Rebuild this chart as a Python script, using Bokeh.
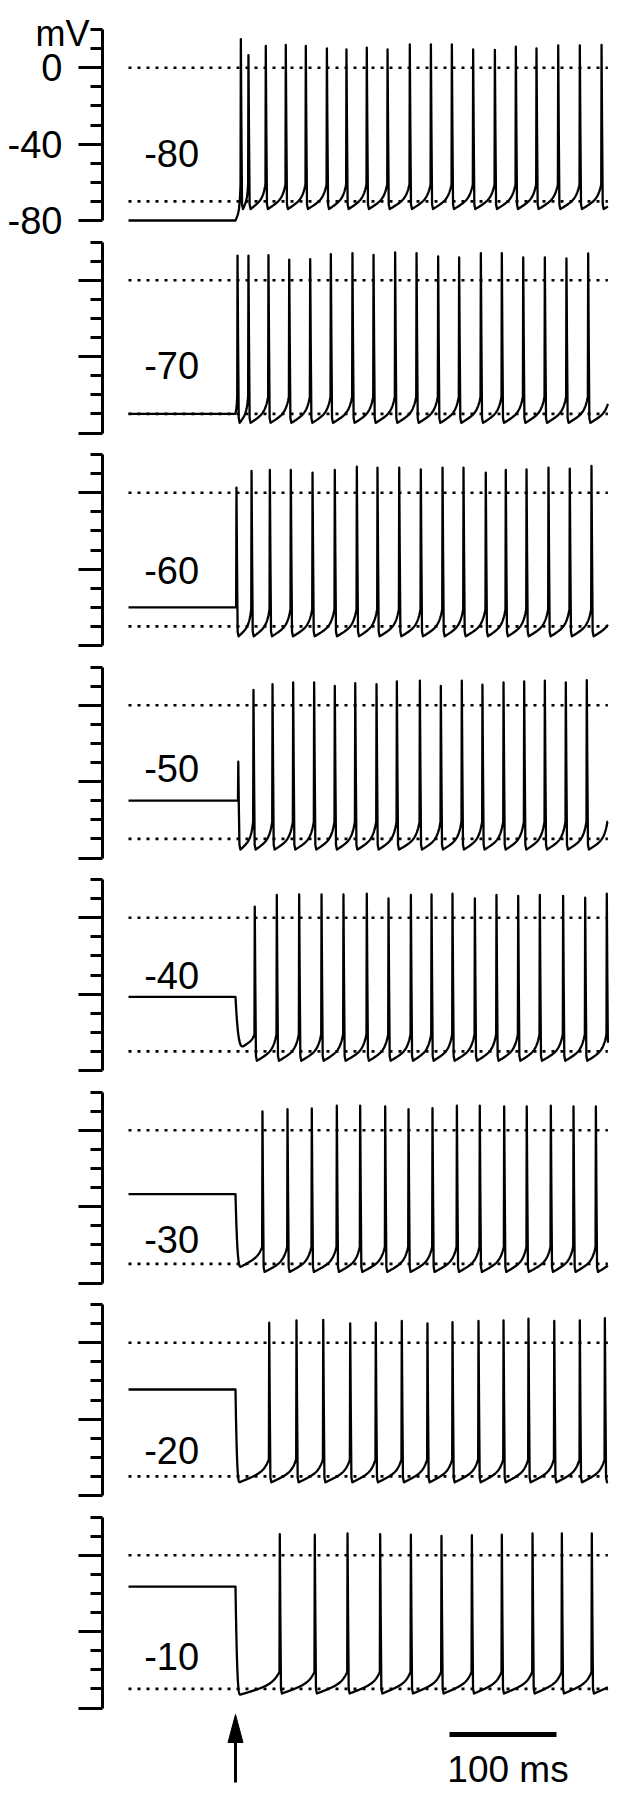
import numpy as np
from bokeh.plotting import figure
from bokeh.models import Range1d, FixedTicker, LinearAxis
from bokeh.core.properties import value
from bokeh.embed import file_html
from bokeh.resources import INLINE

# ---------------- data ----------------
PANEL_LABELS = ["-80", "-70", "-60", "-50", "-40", "-30", "-20", "-10"]
HOLD_MV = [-80.0, -70.0, -60.0, -50.0, -41.5, -33.5, -24.5, -16.5]
AHP_MV = [-74.0, -74.7, -75.2, -75.6, -74.9, -74.2, -73.1, -72.4]
POST_STEP_MS = [100.0, 100.0, 100.0, 100.0, 107.0, 105.0, 104.0, 104.5]
POST_STEP_MV = [-80.0, -70.0, -60.0, -50.0, -67.4, -71.5, -73.0, -73.0]

SPIKE_MS_80 = [105.0, 112.1, 128.3, 147.0, 165.7, 185.4, 203.7, 222.7, 242.1, 262.9,
               282.6, 302.2, 322.1, 342.4, 362.0, 381.3, 401.6, 421.8, 442.1]
PEAK_MV_80 = [14.9, 6.6, 11.4, 11.9, 11.4, 10.1, 9.6, 10.5, 9.6, 12.2,
              12.2, 12.2, 9.6, 9.3, 11.0, 10.1, 11.7, 11.7, 11.9]
SPIKE_MS_70 = [101.9, 112.1, 130.8, 150.2, 169.8, 189.1, 209.3, 229.0, 249.2, 269.2,
               289.4, 309.0, 329.3, 348.9, 368.9, 389.1, 409.3, 429.6]
PEAK_MV_70 = [12.8, 12.8, 13.1, 10.7, 11.0, 13.6, 14.2, 13.3, 14.5, 14.2,
              12.4, 11.9, 14.2, 14.2, 11.9, 11.9, 11.4, 14.0]
SPIKE_MS_60 = [100.9, 115.0, 132.1, 151.7, 172.0, 192.8, 213.4, 232.7, 253.0, 273.2,
               293.5, 313.1, 333.9, 352.6, 372.0, 392.5, 412.4, 432.7]
PEAK_MV_60 = [2.6, 11.4, 11.9, 11.9, 10.5, 11.9, 13.6, 13.1, 13.1, 12.2,
              13.1, 13.1, 10.5, 11.9, 12.2, 13.1, 12.6, 14.0]
SPIKE_MS_50 = [102.6, 116.8, 134.6, 153.9, 173.5, 192.8, 211.9, 231.8, 250.8, 272.3,
               291.9, 311.5, 330.8, 350.5, 369.8, 389.1, 408.7, 428.3]
PEAK_MV_50 = [-29.6, 8.0, 11.0, 11.9, 11.9, 10.1, 11.5, 11.0, 12.4, 12.8,
              10.1, 12.8, 10.7, 11.9, 12.4, 12.8, 11.9, 13.1]
SPIKE_MS_40 = [118.0, 138.6, 159.5, 180.4, 200.9, 222.7, 243.0, 263.9, 283.2, 302.8,
               323.7, 343.9, 364.2, 384.4, 406.2, 426.8, 447.0]
PEAK_MV_40 = [5.8, 11.9, 12.2, 12.2, 12.2, 12.6, 10.1, 11.9, 12.2, 12.6,
              10.1, 11.9, 11.4, 11.9, 11.4, 10.5, 12.6]
SPIKE_MS_30 = [125.2, 148.6, 171.3, 194.7, 216.5, 239.9, 261.7, 284.1, 306.9, 328.3,
               351.1, 372.2, 394.7, 415.9, 436.8]
PEAK_MV_30 = [9.8, 11.0, 11.4, 12.8, 12.8, 12.4, 11.0, 11.5, 12.8, 12.8,
              12.4, 12.4, 12.8, 12.4, 12.4]
SPIKE_MS_20 = [131.5, 157.0, 182.0, 207.2, 231.1, 255.4, 279.4, 302.8, 327.1, 350.5,
               373.8, 397.9, 421.8, 445.2]
PEAK_MV_20 = [10.5, 11.7, 11.9, 10.1, 10.5, 11.4, 10.1, 10.8, 11.4, 11.7,
              12.6, 11.4, 11.7, 12.8]
SPIKE_MS_10 = [141.4, 174.1, 204.7, 235.2, 263.9, 292.5, 320.9, 348.9, 377.6, 405.0, 433.0]
PEAK_MV_10 = [11.0, 10.7, 11.4, 11.0, 10.7, 10.1, 10.5, 10.7, 11.4, 11.4, 11.4]

SPIKES_MS = [SPIKE_MS_80, SPIKE_MS_70, SPIKE_MS_60, SPIKE_MS_50,
             SPIKE_MS_40, SPIKE_MS_30, SPIKE_MS_20, SPIKE_MS_10]
PEAKS_MV = [PEAK_MV_80, PEAK_MV_70, PEAK_MV_60, PEAK_MV_50,
            PEAK_MV_40, PEAK_MV_30, PEAK_MV_20, PEAK_MV_10]

DOTTED_MV = [0.0, -70.0]
Y_BOUNDS = (-80, 20)
Y_MAJOR_TICKS = [-80, -40, 0]
Y_MINOR_TICKS = [-70, -60, -50, -30, -20, -10, 10, 20]
Y_TICK_LABELS = {-80: "-80", -40: "-40", 0: "0"}
Y_UNIT = "mV"
STEP_MS = 100.0
END_MS = 448.0
SCALE_START_MS = 300.0
SCALE_LEN_MS = 100.0
SCALE_TEXT = "100 ms"

# ---------------- layout / style ----------------
FONT = "Liberation Sans"
FS = "38px"
FIG_W, FIG_H = 615, 1784           # page pixels 8..623 x 8..1792
PAGE_X0, PAGE_Y0 = 8, 8
T0_PX = 136.0                       # page x of t = 0 ms
PX_PER_MS = 1.07
ZERO0_PX = 75.2                     # page y of 0 mV in the first panel
PANEL_STEP_PX = 212.5
PX_PER_MV = 1.91
SPINE_MS = (110.0 - T0_PX) / PX_PER_MS
LABEL_X_MS = 66.0
LABEL_BASE_MV = [-44.7, -44.7, -40.9, -33.2, -30.2, -57.2, -56.2, -53.0]
V_TH = -61.0


def ramp(t_a, v_a, t_b, v_b):
    n = max(6, int((t_b - t_a) / 0.35))
    s = np.linspace(0.0, 1.0, n + 1)[1:]
    rise = v_b - v_a
    lin = min(6.0, 0.6 * rise) if rise > 0 else rise
    k = 6.0
    curve = (np.exp(k * s) - 1.0) / (np.exp(k) - 1.0)
    return list(t_a + s * (t_b - t_a)), list(v_a + lin * s + (rise - lin) * curve)


def build_trace(hold, spikes, peaks, ahp, post_t, post_v):
    t = [0.0, STEP_MS]
    v = [hold, hold]
    if post_t > STEP_MS:
        u = np.linspace(0.0, 1.0, 30)[1:]
        t += list(STEP_MS + u * (post_t - STEP_MS))
        v += list(post_v + (hold - post_v) * (1.0 - u) ** 3)
    ta, va = post_t, post_v
    for i, (sp, pk) in enumerate(zip(spikes, peaks)):
        vth = max(V_TH, va) if i == 0 else V_TH
        rt, rv = ramp(ta, va, sp - 0.3, vth)
        t += rt
        v += rv
        t += [sp, sp + 0.5, sp + 1.1, sp + 2.0]
        v += [pk, 0.5 * (pk + ahp), ahp + 2.5, ahp]
        ta, va = sp + 2.0, ahp
    isi = spikes[-1] - spikes[-2]
    rt, rv = ramp(ta, va, spikes[-1] + isi - 0.3, V_TH)
    t += rt
    v += rv
    t = np.array(t)
    v = np.array(v)
    keep = t <= END_MS
    v_end = float(np.interp(END_MS, t, v))
    return np.append(t[keep], END_MS), np.append(v[keep], v_end)


x0 = (PAGE_X0 - T0_PX) / PX_PER_MS
x1 = (PAGE_X0 + FIG_W - T0_PX) / PX_PER_MS
p = figure(width=FIG_W, height=FIG_H, x_range=Range1d(x0, x1),
           y_range=Range1d(0, FIG_H),           # page pixels above the bottom edge
           x_axis_type=None, y_axis_type=None, title=None,
           output_backend="svg", toolbar_location=None, tools="")
p.min_border = 0
p.outline_line_color = None
p.grid.visible = False
p.background_fill_color = "white"
p.border_fill_color = "white"

for i in range(8):
    zero = ZERO0_PX + i * PANEL_STEP_PX
    name = f"p{i}"
    p.extra_y_ranges[name] = Range1d((zero - (PAGE_Y0 + FIG_H)) / PX_PER_MV,
                                     (zero - PAGE_Y0) / PX_PER_MV)
    ax = LinearAxis(y_range_name=name, fixed_location=SPINE_MS, bounds=Y_BOUNDS,
                    ticker=FixedTicker(ticks=Y_MAJOR_TICKS, minor_ticks=Y_MINOR_TICKS))
    ax.axis_line_width = 3
    ax.axis_line_color = "black"
    ax.major_tick_line_width = 3
    ax.minor_tick_line_width = 3
    ax.major_tick_line_color = "black"
    ax.minor_tick_line_color = "black"
    ax.major_tick_out = 24
    ax.major_tick_in = 0
    ax.minor_tick_out = 12
    ax.minor_tick_in = 0
    ax.major_label_standoff = 16
    ax.major_label_text_font = FONT
    ax.major_label_text_font_size = FS
    ax.major_label_text_color = "black"
    if i == 0:
        ax.major_label_overrides = dict(Y_TICK_LABELS)
    else:
        ax.major_label_overrides = {k: "" for k in Y_TICK_LABELS}
    p.add_layout(ax, "left")

    for d in DOTTED_MV:
        p.line([0.0, END_MS], [d, d], y_range_name=name, line_color="black",
               line_width=2.6, line_dash="3 6", line_cap="butt")

    tt, vv = build_trace(HOLD_MV[i], SPIKES_MS[i], PEAKS_MV[i], AHP_MV[i],
                         POST_STEP_MS[i], POST_STEP_MV[i])
    p.line(tt, vv, y_range_name=name, line_color="black", line_width=2.3,
           line_join="round")

    p.text(x=[LABEL_X_MS], y=[LABEL_BASE_MV[i]], text=[PANEL_LABELS[i]],
           y_range_name=name, text_align="right", text_baseline="alphabetic",
           text_font=value(FONT), text_font_size=value(FS), text_color="black")

# unit label above the first axis
p.text(x=[(97.0 - T0_PX) / PX_PER_MS], y=[20.5 - 4.5 / PX_PER_MV], text=[Y_UNIT],
       y_range_name="p0", text_align="right", text_baseline="alphabetic",
       text_font=value(FONT), text_font_size=value("36px"), text_color="black")

# stimulus arrow and time scale bar (default range: page pixels above bottom edge)
HEAD_HALF_MS = 7.0
p.segment(x0=[STEP_MS], y0=[2], x1=[STEP_MS], y1=[45], line_color="black", line_width=3)
p.patch(x=[STEP_MS - HEAD_HALF_MS, STEP_MS, STEP_MS + HEAD_HALF_MS],
        y=[42, 70, 42], fill_color="black", line_color="black", line_width=1)
p.segment(x0=[SCALE_START_MS], y0=[50], x1=[SCALE_START_MS + SCALE_LEN_MS], y1=[50],
          line_color="black", line_width=5)
p.text(x=[SCALE_START_MS - 2.0], y=[15], text=[SCALE_TEXT], text_align="left",
       text_baseline="alphabetic", text_font=value(FONT), text_font_size=value("37px"),
       text_color="black")

open("out.html", "w").write(file_html(p, INLINE))
